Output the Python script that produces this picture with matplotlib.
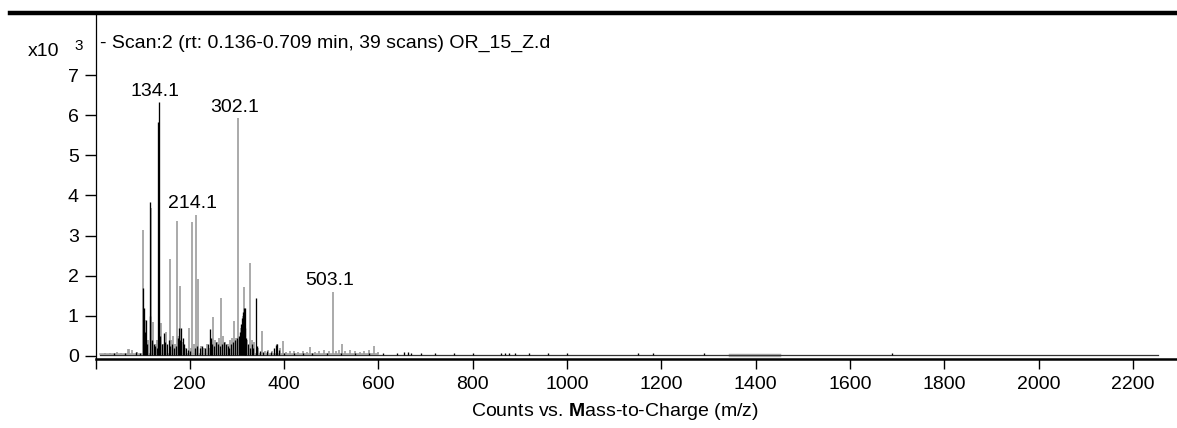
import matplotlib.pyplot as plt
import numpy as np
from matplotlib.lines import Line2D

plt.rcParams['font.family'] = ['Liberation Sans', 'DejaVu Sans']
plt.rcParams['mathtext.fontset'] = 'custom'
plt.rcParams['mathtext.rm'] = 'Liberation Sans'
plt.rcParams['mathtext.bf'] = 'Liberation Sans:bold'

# black trace (m/z, counts x10^3)
black_mz = [40, 62, 85, 95, 101.8, 103.5, 105, 107.7, 110, 114.8, 116, 120, 124, 127, 130, 133, 134.1, 136,
            140, 145, 147, 151, 155, 159, 162, 166, 170, 174, 177, 179, 182, 185, 188, 192, 196, 200, 210,
            216, 222, 226, 232, 238, 242.3, 245, 248, 252, 256, 260, 264, 268, 272, 276, 280, 284, 288, 292,
            296, 300, 304, 307, 309, 311, 313, 315, 316.7, 318, 320, 323, 327, 331, 335, 340.8, 343, 348,
            356, 364, 372, 378, 382, 386, 390, 400, 420, 440, 460, 490, 520, 550, 580, 610, 640, 655, 662,
            670, 690, 720, 760, 800, 860, 868, 876, 890, 920, 960, 1000, 1150, 1182, 1290, 1690]
black_int = [0.08, 0.07, 0.1, 0.08, 1.70, 1.2, 0.6, 0.9, 0.3, 3.83, 1.0, 0.4, 0.3, 0.25, 0.2, 5.84, 6.32, 0.5,
             0.3, 0.58, 0.35, 0.3, 0.4, 0.25, 0.3, 0.2, 0.25, 0.45, 0.7, 0.4, 0.7, 0.45, 0.3, 0.2, 0.15, 0.12, 0.2,
             0.25, 0.2, 0.25, 0.2, 0.3, 0.66, 0.45, 0.3, 0.25, 0.35, 0.3, 0.25, 0.3, 0.35, 0.3, 0.25, 0.2, 0.3, 0.35,
             0.4, 0.45, 0.5, 0.6, 0.8, 0.95, 1.1, 1.18, 1.2, 0.7, 0.45, 0.3, 0.2, 0.3, 0.2, 1.44, 0.25, 0.12,
             0.1, 0.12, 0.1, 0.2, 0.28, 0.3, 0.15, 0.08, 0.06, 0.07, 0.06, 0.07, 0.07, 0.07, 0.07, 0.06, 0.07, 0.09, 0.09,
             0.07, 0.06, 0.06, 0.06, 0.06, 0.07, 0.08, 0.07, 0.06, 0.06, 0.06, 0.07, 0.07, 0.07, 0.06, 0.07]

# gray trace
gray_mz = [20, 30, 45, 55, 68, 72, 78, 88, 101.3, 104.5, 112, 117.6, 122, 128, 131, 139.5, 143, 150, 157.3,
           161, 164, 168, 172.2, 175, 178.5, 185, 190, 198, 202, 205.5, 208, 214.1, 216.5, 224, 230, 236, 240,
           250, 254, 258, 262, 266.4, 270, 275, 281, 286, 290, 293.3, 297, 302.1, 305, 309, 312, 314.6, 318,
           322, 328, 331, 337, 345, 353.5, 360, 366, 374, 385, 392, 398, 405, 412, 420, 430, 440, 448, 455.5,
           465, 475, 485, 495, 503.1, 510, 516, 523.5, 530, 540, 550, 560, 570, 580, 590, 600]
gray_int = [0.07, 0.08, 0.1, 0.08, 0.16, 0.18, 0.15, 0.1, 3.13, 0.9, 0.4, 3.68, 0.85, 0.3, 0.4, 0.81, 0.3, 0.6, 2.42,
            0.4, 0.5, 0.3, 3.37, 0.5, 1.75, 0.35, 0.2, 0.69, 0.2, 3.33, 0.3, 3.52, 1.91, 0.25, 0.2, 0.3, 0.2,
            0.96, 0.4, 0.35, 0.45, 1.44, 0.5, 0.35, 0.3, 0.4, 0.45, 0.86, 0.45, 5.93, 0.4, 0.7, 1.0, 1.71, 0.5,
            0.4, 2.31, 0.4, 0.35, 0.2, 0.61, 0.12, 0.15, 0.12, 0.3, 0.2, 0.37, 0.1, 0.12, 0.12, 0.1, 0.12, 0.1, 0.22,
            0.1, 0.12, 0.15, 0.12, 1.6, 0.12, 0.15, 0.3, 0.12, 0.15, 0.12, 0.1, 0.12, 0.15, 0.25, 0.1]

baseline_black_mz = [10, 2253]
baseline_black = [0.03, 0.03]
baseline_gray_mz = [10, 600]
baseline_gray = [0.05, 0.05]
gray_seg_mz = [1345, 1450]
gray_seg = [0.02, 0.02]

peak_labels = ["134.1", "214.1", "302.1", "503.1"]
peak_mz = [134.1, 214.1, 302.1, 503.1]
peak_int = [6.32, 3.52, 5.93, 1.6]

fig = plt.figure(figsize=(11.77, 4.28), dpi=100)
W, H = 1177, 428
ax = fig.add_axes([95.5 / W, 1 - 359 / H, 1 - 95.5 / W, (359 - 15) / H])

gray_c = '#9c9c9c'
ax.plot(baseline_gray_mz, baseline_gray, color=gray_c, lw=1.1)
ax.plot(gray_seg_mz, gray_seg, color='#b0b0b0', lw=2.5)
ax.vlines(gray_mz, 0.04, gray_int, color=gray_c, lw=1.2)
ax.plot(baseline_black_mz, baseline_black, color='#333333', lw=0.9)
ax.vlines(black_mz, 0.03, black_int, color='black', lw=0.95)

for lab, mz, it in zip(peak_labels, peak_mz, peak_int):
    ax.annotate(lab, (mz, it), xytext=(-2.5, 4.5), textcoords='offset points',
                ha='center', va='baseline', fontsize=14)

ax.set_xlim(0, (W - 95.5) / 0.4715)
ax.set_ylim(-0.08, 8.5)
ax.set_xticks(range(0, 2201, 200))
ax.set_xticklabels([''] + [str(v) for v in range(200, 2201, 200)])
ax.set_yticks(range(0, 8))
ax.tick_params(axis='both', labelsize=14, width=1, color='black')
ax.tick_params(axis='y', length=8, pad=4)
ax.tick_params(axis='x', length=7.5, pad=5)

ax.spines['top'].set_visible(False)
ax.spines['right'].set_visible(False)
ax.spines['left'].set_linewidth(0.9)
ax.spines['bottom'].set_linewidth(1.8)

fig.add_artist(Line2D([10 / W, 1], [1 - 13 / H, 1 - 13 / H], color='black', lw=3.2))

fig.text(100 / W, 1 - 43 / H, "- Scan:2 (rt: 0.136-0.709 min, 39 scans) OR_15_Z.d",
         fontsize=14, va='center', ha='left')
fig.text(28 / W, 1 - 52 / H, "x10", fontsize=14, va='center', ha='left')
fig.text(74 / W, 1 - 46 / H, "3", fontsize=11, va='center', ha='left')
fig.text(615 / W, 1 - 412 / H, r"Counts vs. $\mathbf{M}$ass-to-Charge (m/z)",
         fontsize=14, va='center', ha='center')

fig.savefig("out.png", dpi=100)
